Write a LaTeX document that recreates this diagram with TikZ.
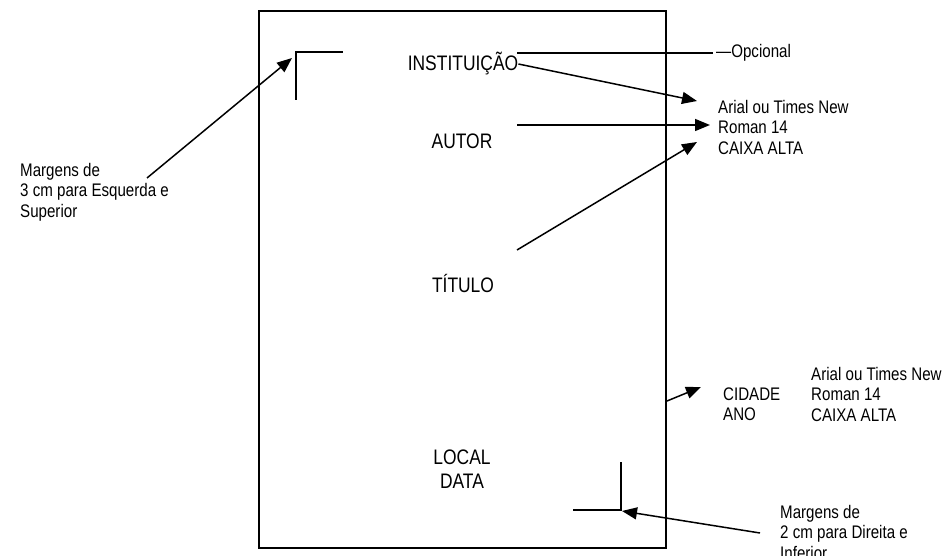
\documentclass[tikz,border=0pt]{standalone}
\usepackage{fontspec}
\setmainfont{Liberation Sans}[FakeStretch=0.83]
\usetikzlibrary{arrows.meta}

\tikzset{
  big/.style={font=\fontsize{21}{24}\selectfont, inner sep=0pt, align=center},
  small/.style={font=\fontsize{18.2}{20.5}\selectfont, inner sep=0pt, align=left, anchor=west},
  pointer/.style={line width=1.5pt, -{Triangle[length=15pt,width=12pt]}}
}

\begin{document}
\begin{tikzpicture}[x=1pt, y=-1pt]
   \useasboundingbox (0,0) rectangle (946,556);
   \draw[line width=1.8pt] (259,11) rectangle (666,548);

   % corner marks
   \draw[line width=1.6pt] (296,100) -- (296,52) -- (343,52);
   \draw[line width=1.6pt] (621,462) -- (621,510) -- (573,510);

   % page texts
   \node[big] (inst) at (463,64) {INSTITUIÇÃO};
   \node[big] (autor) at (462,141) {AUTOR};
   \node[big] (titulo) at (463,283) {TÍTULO};
   \node[big] (local) at (462,469) {LOCAL\\DATA};

   % side notes
   \node[small] (opc) at (716,53) {—Opcional};
   \node[small] (fonte) at (718,127) {Arial ou Times New\\Roman 14\\CAIXA ALTA};
   \node[small] (cidade) at (723,404) {CIDADE\\ANO};
   \node[small] (fonte2) at (811,394) {Arial ou Times New\\Roman 14\\CAIXA ALTA};
   \node[small] (msup) at (20,192) {Margens de\\3 cm para Esquerda e\\Superior};
   \node[small] (minf) at (780,532) {Margens de\\2 cm para Direita e\\Inferior};

   \coordinate (optA) at (517,53);
   \coordinate (autA) at (517,125);
   \coordinate (titA) at (517,250);
   \coordinate (cidA) at (667,401);
   \coordinate (supA) at (147,178);
   \coordinate (infA) at (760,533);

   \draw[line width=1.4pt, shorten >=3pt] (optA) -- (opc.west);
   \draw[pointer] (inst.east) -- (697,101);
   \draw[pointer] (autA) -- (710,125);
   \draw[pointer] (titA) -- (697,142);
   \draw[pointer] (cidA) -- (701,387);
   \draw[pointer] (supA) -- (292,58);
   \draw[pointer] (infA) -- (622,511);
\end{tikzpicture}
\end{document}
